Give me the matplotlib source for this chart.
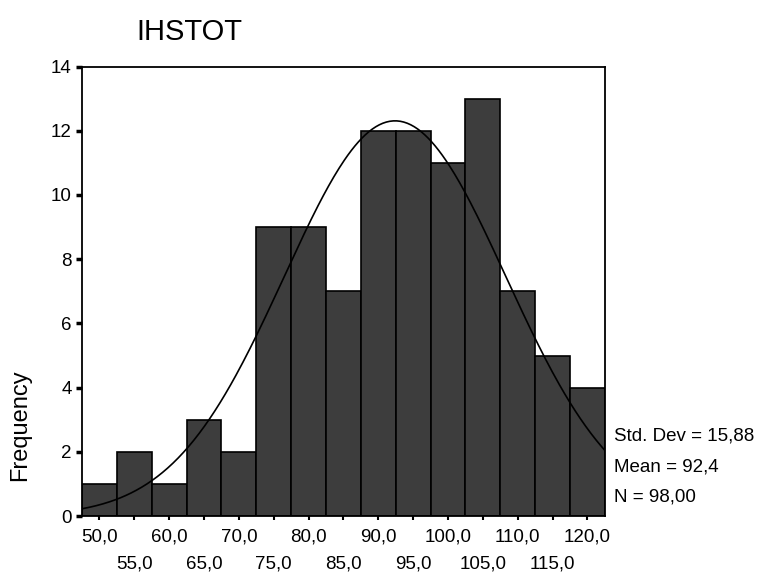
import numpy as np
import matplotlib.pyplot as plt

# Bin centres and counts
bin_centres = [50, 55, 60, 65, 70, 75, 80, 85, 90, 95, 100, 105, 110, 115, 120]
counts = [1, 2, 1, 3, 2, 9, 9, 7, 12, 12, 11, 13, 7, 5, 4]
std_dev = 15.88
mean = 92.4
n_total = 98
bin_width = 5
tick_labels = ['50,0', '55,0', '60,0', '65,0', '70,0', '75,0', '80,0', '85,0',
               '90,0', '95,0', '100,0', '105,0', '110,0', '115,0', '120,0']

plt.rcParams['font.family'] = ['Liberation Sans', 'DejaVu Sans']

fig = plt.figure(figsize=(7.59, 5.74), dpi=100)
ax = fig.add_axes([0.108, 0.101, 0.689, 0.783])

ax.bar(bin_centres, counts, width=bin_width, color='#3d3d3d',
       edgecolor='black', linewidth=1.2)

# Normal curve scaled to counts
xs = np.linspace(47.5, 122.5, 300)
ys = n_total * bin_width / (std_dev * np.sqrt(2 * np.pi)) * np.exp(-0.5 * ((xs - mean) / std_dev) ** 2)
ax.plot(xs, ys, color='black', linewidth=1.2)

ax.set_xlim(47.5, 122.5)
ax.set_ylim(0, 14)
ax.set_yticks(range(0, 15, 2))
ax.tick_params(axis='y', direction='out', length=4, width=2.5, labelsize=13.5)
ax.set_xticks(bin_centres)
ax.set_xticklabels([''] * len(bin_centres))
ax.tick_params(axis='x', direction='out', length=3, width=1.5)

# alternating two-row x labels
for i, (c, lab) in enumerate(zip(bin_centres, tick_labels)):
    y_off = -0.047 if i % 2 == 0 else -0.106
    ax.text(c, y_off, lab, transform=ax.get_xaxis_transform(), ha='center',
            va='center', fontsize=13.5)

for s in ax.spines.values():
    s.set_linewidth(1.3)

fig.text(0.18, 0.945, 'IHSTOT', fontsize=21, ha='left', va='center')
fig.text(0.027, 0.26, 'Frequency', fontsize=17, rotation=90, ha='center', va='center')

fig.text(0.809, 0.240, 'Std. Dev = 15,88', fontsize=13.5, ha='left', va='center')
fig.text(0.809, 0.186, 'Mean = 92,4', fontsize=13.5, ha='left', va='center')
fig.text(0.809, 0.134, 'N = 98,00', fontsize=13.5, ha='left', va='center')

plt.savefig('out.png', dpi=100)
